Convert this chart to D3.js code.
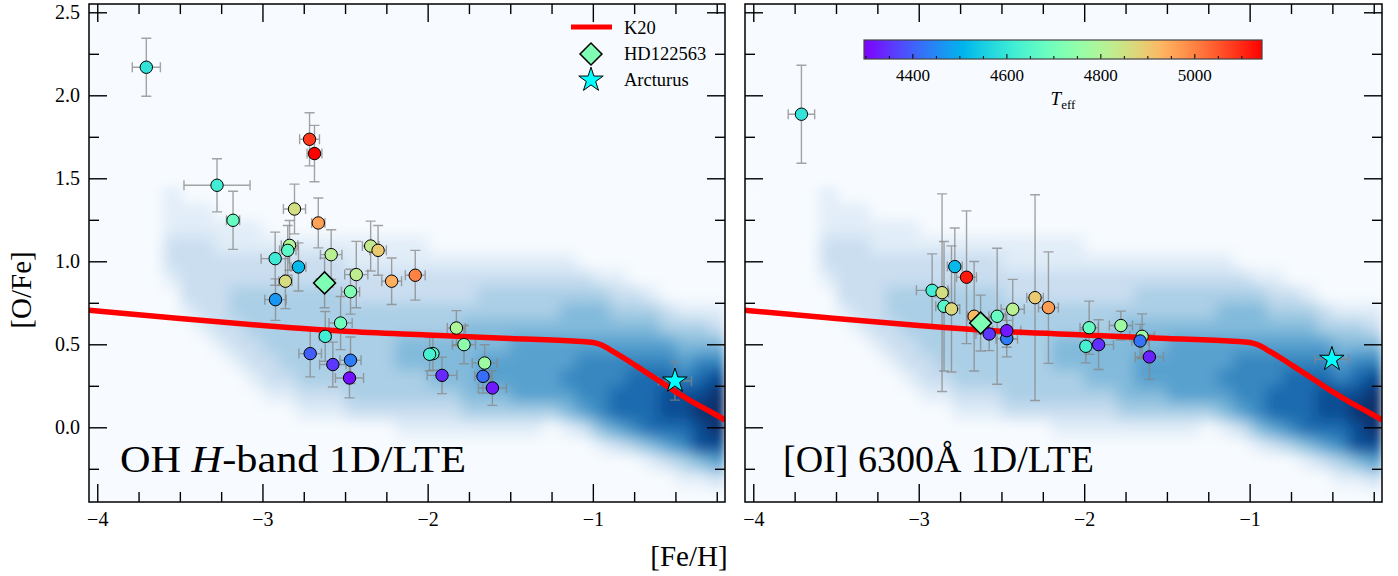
<!DOCTYPE html>
<html>
<head>
<meta charset="utf-8">
<script src="https://cdn.jsdelivr.net/npm/d3@7"></script>
<style>
	body { margin: 0; background: #fff; }
	svg { display: block; }
	svg text { font-family: 'Liberation Serif', 'DejaVu Serif', serif; }
</style>
</head>
<body>
<svg id="chart" width="1398" height="576" font-family="Liberation Serif, DejaVu Serif, serif"></svg>
<script>
// Tick labels
const feTicks = [ -4, -3, -2, -1 ];
const ofeTicks = [ 0, 0.5, 1.0, 1.5, 2.0, 2.5 ];
const teffTicks = [ 4400, 4600, 4800, 5000 ];
const teffRange = [ 4297, 5144 ];

// OH H-band 1D/LTE sample
const ohFeH = [ -3.703, -3.275, -3.178, -2.715, -2.685, -2.806, -2.662, -2.836, -2.847, -2.923, -2.782, -2.584, -2.345, -2.300, -2.432, -2.861, -2.467, -2.921, -2.218, -2.075, -2.527, -2.620, -2.711, -2.574, -2.467, -2.473, -1.826, -1.780, -1.968, -1.988, -1.913, -1.655, -1.665, -1.608 ];
const ohOFe = [ 2.169, 1.458, 1.247, 1.735, 1.649, 1.315, 1.231, 1.096, 1.066, 1.016, 0.966, 1.040, 1.092, 1.066, 0.920, 0.880, 0.817, 0.769, 0.880, 0.916, 0.628, 0.548, 0.444, 0.378, 0.404, 0.297, 0.598, 0.498, 0.444, 0.440, 0.313, 0.387, 0.307, 0.237 ];
const ohFeHErr = [ 0.085, 0.20, 0.04, 0.06, 0.045, 0.067, 0.04, 0.05, 0.05, 0.085, 0.045, 0.065, 0.05, 0.05, 0.07, 0.04, 0.055, 0.065, 0.06, 0.06, 0.07, 0.035, 0.068, 0.08, 0.064, 0.085, 0.055, 0.07, 0.03, 0.03, 0.09, 0.075, 0.05, 0.085 ];
const ohOFeErr = [ 0.175, 0.16, 0.175, 0.16, 0.17, 0.15, 0.15, 0.15, 0.15, 0.16, 0.145, 0.15, 0.15, 0.15, 0.20, 0.165, 0.135, 0.125, 0.14, 0.15, 0.16, 0.15, 0.14, 0.135, 0.14, 0.12, 0.105, 0.115, 0.10, 0.10, 0.11, 0.11, 0.10, 0.105 ];
const ohTeff = [ 4593, 4619, 4678, 5085, 5144, 4856, 4958, 4805, 4661, 4610, 4517, 4814, 4831, 4898, 4822, 4864, 4720, 4466, 4940, 5000, 4695, 4619, 4399, 4356, 4433, 4314, 4797, 4746, 4653, 4627, 4339, 4771, 4416, 4322 ];

// [OI] 6300 sample
const oiFeH = [ -3.709, -2.919, -2.859, -2.782, -2.711, -2.847, -2.802, -2.665, -2.526, -2.432, -2.574, -2.468, -2.468, -2.297, -2.216, -1.970, -1.990, -1.913, -1.778, -1.650, -1.662, -1.606 ];
const oiOFe = [ 1.886, 0.825, 0.811, 0.968, 0.904, 0.729, 0.713, 0.669, 0.669, 0.711, 0.562, 0.534, 0.582, 0.781, 0.721, 0.600, 0.488, 0.498, 0.613, 0.548, 0.520, 0.424 ];
const oiFeHErr = [ 0.08, 0.095, 0.04, 0.045, 0.06, 0.05, 0.05, 0.04, 0.05, 0.07, 0.08, 0.065, 0.085, 0.05, 0.06, 0.055, 0.03, 0.09, 0.07, 0.075, 0.05, 0.085 ];
const oiOFeErr = [ 0.295, 0.22, 0.595, 0.233, 0.40, 0.39, 0.38, 0.33, 0.41, 0.18, 0.10, 0.11, 0.10, 0.62, 0.336, 0.16, 0.10, 0.15, 0.087, 0.135, 0.10, 0.135 ];
const oiTeff = [ 4593, 4619, 4856, 4517, 5119, 4653, 4873, 4924, 4678, 4814, 4356, 4433, 4322, 4898, 4966, 4678, 4627, 4348, 4771, 4771, 4424, 4331 ];

// Reference stars, one value per panel
const hdFeH = [ -2.624, -2.626 ];
const hdOFe = [ 0.870, 0.628 ];
const hdFeHErr = [ 0.05, 0.05 ];
const hdOFeErr = [ 0.15, 0.168 ];
const hdTeff = 4720;
const arcFeH = [ -0.503, -0.503 ];
const arcOFe = [ 0.279, 0.410 ];
const arcFeHErr = [ 0.10, 0.10 ];
const arcOFeErr = [ 0.115, 0.04 ];

// K20 model track
const k20FeH = [ -4.05, -3.5, -3.0, -2.5, -2.0, -1.5, -1.1, -1.0, -0.95, -0.9, -0.8, -0.7, -0.6, -0.5, -0.4, -0.3, -0.2 ];
const k20OFe = [ 0.705, 0.655, 0.613, 0.578, 0.556, 0.535, 0.518, 0.511, 0.497, 0.470, 0.410, 0.345, 0.280, 0.215, 0.155, 0.100, 0.045 ];

// Model density (0-9), rows from [O/Fe]=1.40 down to -0.40, columns from [Fe/H]=-3.95 to -0.25
const densityFeH = [ -4.0, -0.2 ];
const densityOFe = [ -0.45, 1.45 ];
const densityRows = [
	'00001000000000000000000000000000000000',
	'00001110000000000000000000000000000000',
	'00001111110000000000000000000000000000',
	'00002221111111111111000000000000000000',
	'00002222222222211111111111111000000000',
	'00001222222222222222222222222211000000',
	'00000222333333322222222333333332210000',
	'00000122333333333333333333334443332111',
	'00000012233333333333334444444444443332',
	'00000001223333333344444445555555555444',
	'00000000122333333344444555555666666566',
	'00000000012233333333444555556666777678',
	'00000000001122233333334445555667778889',
	'00000000000011122222223333334567778899',
	'00000000000000000011111111101245677789',
	'00000000000000000000000000000012345688',
	'00000000000000000000000000000000012345',
	'00000000000000000000000000000000000112',
	'00000000000000000000000000000000000000',
];

const svg = d3.select( '#chart' );
const layout = { top: 4, bottom: 502, panels: [ [ 89, 725 ], [ 745, 1382 ] ] };
const defs = svg.append( 'defs' );

// matplotlib "rainbow"
function rainbow( t ) {
	const c = ( v ) => Math.round( 255 * Math.max( 0, Math.min( 1, v ) ) );
	return d3.rgb( c( Math.abs( 2 * t - 0.5 ) ), c( Math.sin( Math.PI * t ) ), c( Math.cos( Math.PI * t / 2 ) ) ).formatHex();
}
const colour = d3.scaleSequential( rainbow ).domain( teffRange ).clamp( true );

function densityImage() {
	const canvas = document.createElement( 'canvas' );
	canvas.width = densityRows[ 0 ].length;
	canvas.height = densityRows.length;
	const ctx = canvas.getContext( '2d' );
	densityRows.forEach( ( row, j ) => {
		row.split( '' ).forEach( ( d, i ) => {
			ctx.fillStyle = d3.interpolateBlues( +d / 9 );
			ctx.fillRect( i, j, 1, 1 );
		} );
	} );
	return canvas.toDataURL();
}
const densityUrl = densityImage();

// soften the coarse density cells
defs.append( 'filter' )
	.attr( 'id', 'soften' )
	.attr( 'x', -0.05 ).attr( 'y', -0.05 )
	.attr( 'width', 1.1 ).attr( 'height', 1.1 )
	.append( 'feGaussianBlur' )
	.attr( 'stdDeviation', 5 )
	.attr( 'edgeMode', 'duplicate' );

const diamondPath = d3.symbol( d3.symbolSquare, 240 )();
const starPath = d3.symbol( d3.symbolStar, 185 )();

function drawErrorbars( g, x, y, fe, ofe, feErr, ofeErr ) {
	const cap = 5;
	g.append( 'g' )
		.attr( 'stroke', '#858585' )
		.attr( 'stroke-opacity', 0.75 )
		.attr( 'stroke-width', 1.4 )
		.attr( 'fill', 'none' )
		.selectAll( 'path' )
		.data( d3.range( fe.length ) )
		.join( 'path' )
		.attr( 'd', ( i ) => {
			const cx = x( fe[ i ] ), cy = y( ofe[ i ] );
			const x0 = x( fe[ i ] - feErr[ i ] ), x1 = x( fe[ i ] + feErr[ i ] );
			const y0 = y( ofe[ i ] - ofeErr[ i ] ), y1 = y( ofe[ i ] + ofeErr[ i ] );
			return `M${ x0 },${ cy }H${ x1 }M${ cx },${ y0 }V${ y1 }` +
				`M${ x0 },${ cy - cap }V${ cy + cap }M${ x1 },${ cy - cap }V${ cy + cap }` +
				`M${ cx - cap },${ y0 }H${ cx + cap }M${ cx - cap },${ y1 }H${ cx + cap }`;
		} );
}

function tickAxis( g, axis, transform, values, size, padding, format ) {
	const a = g.append( 'g' )
		.attr( 'transform', transform )
		.call( axis.tickValues( values ).tickSize( -size ).tickSizeOuter( 0 ).tickPadding( padding ).tickFormat( format || ( () => '' ) ) );
	a.select( '.domain' ).remove();
	a.attr( 'font-family', null ).attr( 'font-size', 20 );
	a.selectAll( 'line' ).attr( 'stroke-width', 1.4 );
	return a;
}

function generatePanel( index, sample ) {
	const [ left, right ] = layout.panels[ index ];
	const x = d3.scaleLinear().domain( [ -4.05, -0.2 ] ).range( [ left, right ] );
	const y = d3.scaleLinear().domain( [ -0.45, 2.55 ] ).range( [ layout.bottom, layout.top ] );

	defs.append( 'clipPath' )
		.attr( 'id', 'clip' + index )
		.append( 'rect' )
		.attr( 'x', left )
		.attr( 'y', layout.top )
		.attr( 'width', right - left )
		.attr( 'height', layout.bottom - layout.top );

	const plot = svg.append( 'g' ).attr( 'clip-path', `url(#clip${ index })` );

	plot.append( 'rect' )
		.attr( 'x', left )
		.attr( 'y', layout.top )
		.attr( 'width', right - left )
		.attr( 'height', layout.bottom - layout.top )
		.attr( 'fill', d3.interpolateBlues( 0 ) );

	plot.append( 'image' )
		.attr( 'href', densityUrl )
		.attr( 'x', x( densityFeH[ 0 ] ) )
		.attr( 'y', y( densityOFe[ 1 ] ) )
		.attr( 'width', x( densityFeH[ 1 ] ) - x( densityFeH[ 0 ] ) )
		.attr( 'height', y( densityOFe[ 0 ] ) - y( densityOFe[ 1 ] ) )
		.attr( 'preserveAspectRatio', 'none' )
		.attr( 'filter', 'url(#soften)' );

	drawErrorbars( plot, x, y, sample.fe, sample.ofe, sample.feErr, sample.ofeErr );
	drawErrorbars( plot, x, y, [ hdFeH[ index ] ], [ hdOFe[ index ] ], [ hdFeHErr[ index ] ], [ hdOFeErr[ index ] ] );
	drawErrorbars( plot, x, y, [ arcFeH[ index ] ], [ arcOFe[ index ] ], [ arcFeHErr[ index ] ], [ arcOFeErr[ index ] ] );

	const line = d3.line()
		.x( ( d, i ) => x( k20FeH[ i ] ) )
		.y( ( d ) => y( d ) )
		.curve( d3.curveMonotoneX );

	plot.append( 'path' )
		.datum( k20OFe )
		.attr( 'd', line )
		.attr( 'fill', 'none' )
		.attr( 'stroke', '#ff0000' )
		.attr( 'stroke-width', 5.5 );

	plot.append( 'g' )
		.selectAll( 'circle' )
		.data( d3.range( sample.fe.length ) )
		.join( 'circle' )
		.attr( 'cx', ( i ) => x( sample.fe[ i ] ) )
		.attr( 'cy', ( i ) => y( sample.ofe[ i ] ) )
		.attr( 'r', 6.2 )
		.attr( 'fill', ( i ) => colour( sample.teff[ i ] ) )
		.attr( 'stroke', '#000' )
		.attr( 'stroke-width', 1 );

	plot.append( 'path' )
		.attr( 'd', diamondPath )
		.attr( 'transform', `translate(${ x( hdFeH[ index ] ) },${ y( hdOFe[ index ] ) }) rotate(45)` )
		.attr( 'fill', colour( hdTeff ) )
		.attr( 'stroke', '#000' )
		.attr( 'stroke-width', 1.5 );

	plot.append( 'path' )
		.attr( 'd', starPath )
		.attr( 'transform', `translate(${ x( arcFeH[ index ] ) },${ y( arcOFe[ index ] ) })` )
		.attr( 'fill', '#00ffff' )
		.attr( 'stroke', '#000' )
		.attr( 'stroke-width', 1 );

	// Ticks on all four sides, pointing inwards
	const minorFe = d3.range( -4, -0.2, 0.25 ).filter( ( v ) => ! feTicks.includes( v ) );
	const minorOFe = d3.range( -0.25, 2.55, 0.25 ).filter( ( v ) => ! ofeTicks.includes( v ) );
	const g = svg.append( 'g' );
	tickAxis( g, d3.axisBottom( x ), `translate(0,${ layout.bottom })`, feTicks, 18, 10, d3.format( 'd' ) );
	tickAxis( g, d3.axisBottom( x ), `translate(0,${ layout.bottom })`, minorFe, 10, 10 );
	tickAxis( g, d3.axisTop( x ), `translate(0,${ layout.top })`, feTicks, 18, 10 );
	tickAxis( g, d3.axisTop( x ), `translate(0,${ layout.top })`, minorFe, 10, 10 );
	tickAxis( g, d3.axisLeft( y ), `translate(${ left },0)`, ofeTicks, 18, 9, index === 0 ? d3.format( '.1f' ) : null );
	tickAxis( g, d3.axisLeft( y ), `translate(${ left },0)`, minorOFe, 10, 9 );
	tickAxis( g, d3.axisRight( y ), `translate(${ right },0)`, ofeTicks, 18, 9 );
	tickAxis( g, d3.axisRight( y ), `translate(${ right },0)`, minorOFe, 10, 9 );

	g.append( 'rect' )
		.attr( 'x', left )
		.attr( 'y', layout.top )
		.attr( 'width', right - left )
		.attr( 'height', layout.bottom - layout.top )
		.attr( 'fill', 'none' )
		.attr( 'stroke', '#000' )
		.attr( 'stroke-width', 1.5 );

	return { x, y, left, right };
}

const ohPanel = generatePanel( 0, { fe: ohFeH, ofe: ohOFe, feErr: ohFeHErr, ofeErr: ohOFeErr, teff: ohTeff } );
const oiPanel = generatePanel( 1, { fe: oiFeH, ofe: oiOFe, feErr: oiFeHErr, ofeErr: oiOFeErr, teff: oiTeff } );

// Panel captions
const ohText = svg.append( 'text' )
	.attr( 'x', ohPanel.left + 31 )
	.attr( 'y', layout.bottom - 30 )
	.attr( 'font-size', 38 )
	.attr( 'textLength', 346 )
	.attr( 'lengthAdjust', 'spacingAndGlyphs' );
ohText.append( 'tspan' ).text( 'OH ' );
ohText.append( 'tspan' ).attr( 'font-style', 'italic' ).text( 'H' );
ohText.append( 'tspan' ).text( '-band 1D/LTE' );

svg.append( 'text' )
	.attr( 'x', oiPanel.left + 38 )
	.attr( 'y', layout.bottom - 30 )
	.attr( 'font-size', 38 )
	.attr( 'textLength', 311 )
	.attr( 'lengthAdjust', 'spacingAndGlyphs' )
	.text( '[OI] 6300Å 1D/LTE' );

// Axis titles
svg.append( 'text' )
	.attr( 'transform', `translate(31,${ ( layout.top + layout.bottom ) / 2 + 37 }) rotate(-90)` )
	.attr( 'text-anchor', 'middle' )
	.attr( 'font-size', 29 )
	.text( '[O/Fe]' );

svg.append( 'text' )
	.attr( 'x', 689 )
	.attr( 'y', 566 )
	.attr( 'text-anchor', 'middle' )
	.attr( 'font-size', 29 )
	.text( '[Fe/H]' );

// Legend
const legend = svg.append( 'g' ).attr( 'font-size', 18.5 );
legend.append( 'line' )
	.attr( 'x1', 571 ).attr( 'x2', 612 )
	.attr( 'y1', 27 ).attr( 'y2', 27 )
	.attr( 'stroke', '#ff0000' )
	.attr( 'stroke-width', 5 );
legend.append( 'path' )
	.attr( 'd', diamondPath )
	.attr( 'transform', 'translate(591,54) rotate(45)' )
	.attr( 'fill', colour( hdTeff ) )
	.attr( 'stroke', '#000' )
	.attr( 'stroke-width', 1.5 );
legend.append( 'path' )
	.attr( 'd', starPath )
	.attr( 'transform', 'translate(591,80)' )
	.attr( 'fill', '#00ffff' )
	.attr( 'stroke', '#000' )
	.attr( 'stroke-width', 1 );
[ 'K20', 'HD122563', 'Arcturus' ].forEach( ( label, i ) => {
	legend.append( 'text' )
		.attr( 'x', 624 )
		.attr( 'y', 33.5 + i * 26 )
		.text( label );
} );

// Colour bar
function generateColorbar() {
	const cx = d3.scaleLinear().domain( teffRange ).range( [ 864, 1262 ] );
	const y0 = 40, y1 = 59;
	const grad = defs.append( 'linearGradient' ).attr( 'id', 'teffGrad' );
	grad.selectAll( 'stop' )
		.data( d3.range( 0, 1.0001, 1 / 40 ) )
		.join( 'stop' )
		.attr( 'offset', ( t ) => t )
		.attr( 'stop-color', ( t ) => rainbow( t ) );

	svg.append( 'rect' )
		.attr( 'x', cx.range()[ 0 ] )
		.attr( 'y', y0 )
		.attr( 'width', cx.range()[ 1 ] - cx.range()[ 0 ] )
		.attr( 'height', y1 - y0 )
		.attr( 'fill', 'url(#teffGrad)' );

	const minor = d3.range( 4300, 5150, 50 ).filter( ( v ) => ! teffTicks.includes( v ) );
	const major = tickAxis( svg, d3.axisBottom( cx ), `translate(0,${ y1 })`, teffTicks, 5, 10, d3.format( 'd' ) );
	major.attr( 'font-size', 17 );
	major.selectAll( 'line' ).attr( 'stroke-width', 1 );
	tickAxis( svg, d3.axisBottom( cx ), `translate(0,${ y1 })`, minor, 3, 10 ).selectAll( 'line' ).attr( 'stroke-width', 1 );

	svg.append( 'rect' )
		.attr( 'x', cx.range()[ 0 ] )
		.attr( 'y', y0 )
		.attr( 'width', cx.range()[ 1 ] - cx.range()[ 0 ] )
		.attr( 'height', y1 - y0 )
		.attr( 'fill', 'none' )
		.attr( 'stroke', '#444' )
		.attr( 'stroke-width', 1.2 );

	const label = svg.append( 'text' )
		.attr( 'x', ( cx.range()[ 0 ] + cx.range()[ 1 ] ) / 2 )
		.attr( 'y', 105 )
		.attr( 'text-anchor', 'middle' )
		.attr( 'font-size', 19 );
	label.append( 'tspan' ).attr( 'font-style', 'italic' ).text( 'T' );
	label.append( 'tspan' ).attr( 'font-size', 13 ).attr( 'dy', 4 ).text( 'eff' );
}

generateColorbar();
</script>
</body>
</html>
